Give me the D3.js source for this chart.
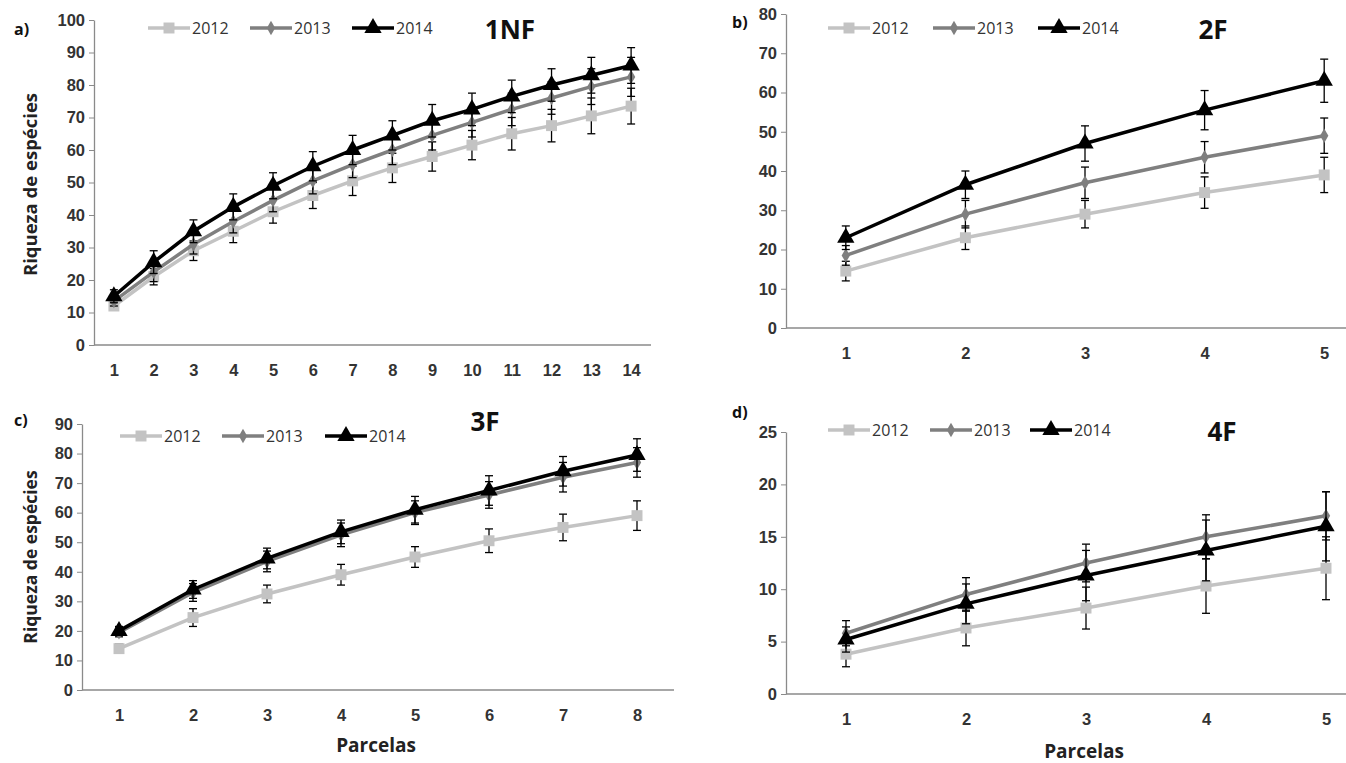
<!DOCTYPE html>
<html lang="pt">
<head>
<meta charset="UTF-8">
<title>Riqueza de espécies</title>
<script src="https://cdn.jsdelivr.net/npm/d3@7"></script>
<style>
    body { margin: 0; background: #fff; }
    svg { display: block; font-family: 'Open Sans', sans-serif; }
    .tick-label { font-size: 16.5px; font-weight: 600; fill: #333; }
    .legend-text { font-size: 16px; fill: #333; }
    .title { font-size: 26px; font-weight: 700; fill: #111; }
    .axis-title { font-size: 19px; font-weight: 700; fill: #222; }
    .panel-letter { font-size: 16px; font-weight: 700; fill: #111; }
</style>
</head>
<body>
<svg id="chart" width="1346" height="763"></svg>
<script>
// --- data -------------------------------------------------------------
var years = ["2012", "2013", "2014"];

var parcelasA = d3.range(1, 15);
var mean1NF_2012 = [12, 21, 29, 35, 41, 46, 50.5, 54.5, 58, 61.5, 65, 67.5, 70.5, 73.5];
var err1NF_2012  = [1, 2.5, 3, 3.5, 3.5, 4, 4.5, 4.5, 4.5, 4.5, 5, 5, 5.5, 5.5];
var mean1NF_2013 = [13.5, 22.5, 31, 38, 44.5, 50.5, 55.5, 60, 64.5, 68.5, 72.5, 76, 79.5, 82.5];
var err1NF_2013  = [1.5, 3, 3, 3.5, 3.5, 4, 4, 4.5, 4.5, 4.5, 5, 5, 5.5, 6];
var mean1NF_2014 = [15, 25.5, 35, 42.5, 49, 55, 60, 64.5, 69, 72.5, 76.5, 80, 83, 86];
var err1NF_2014  = [2, 3.5, 3.5, 4, 4, 4.5, 4.5, 4.5, 5, 5, 5, 5, 5.5, 5.5];

var parcelasB = d3.range(1, 6);
var mean2F_2012 = [14.5, 23, 29, 34.5, 39];
var err2F_2012  = [2.5, 3, 3.5, 4, 4.5];
var mean2F_2013 = [18.5, 29, 37, 43.5, 49];
var err2F_2013  = [2.5, 3.5, 4, 4, 4.5];
var mean2F_2014 = [23, 36.5, 47, 55.5, 63];
var err2F_2014  = [3, 3.5, 4.5, 5, 5.5];

var parcelasC = d3.range(1, 9);
var mean3F_2012 = [14, 24.5, 32.5, 39, 45, 50.5, 55, 59];
var err3F_2012  = [1.5, 3, 3, 3.5, 3.5, 4, 4.5, 5];
var mean3F_2013 = [19.5, 33, 43.5, 52.5, 60, 66, 72, 77];
var err3F_2013  = [1.5, 3, 3.5, 4, 4, 4.5, 5, 5];
var mean3F_2014 = [20, 34, 44.5, 53.5, 61, 67.5, 74, 79.5];
var err3F_2014  = [1.5, 3, 3.5, 4, 4.5, 5, 5, 5.5];

var parcelasD = d3.range(1, 6);
var mean4F_2012 = [3.8, 6.3, 8.2, 10.3, 12];
var err4F_2012  = [1.2, 1.7, 2, 2.6, 3];
var mean4F_2013 = [5.8, 9.5, 12.5, 15, 17];
var err4F_2013  = [1.2, 1.6, 1.8, 2.1, 2.3];
var mean4F_2014 = [5.2, 8.6, 11.3, 13.7, 16];
var err4F_2014  = [1.2, 1.9, 2.4, 2.9, 3.3];

var ticksA = d3.range(0, 101, 10);
var ticksB = d3.range(0, 81, 10);
var ticksC = d3.range(0, 91, 10);
var ticksD = d3.range(0, 26, 5);

// --- styles -----------------------------------------------------------
var colors = {"2012": "#c3c3c3", "2013": "#7f7f7f", "2014": "#000000"};
var symbols = {"2012": d3.symbolSquare, "2013": d3.symbolDiamond, "2014": d3.symbolTriangle};
var symSize = {"2012": 120, "2013": 60, "2014": 130};

var svg = d3.select("#chart");

function drawPanel(p) {
    var g = svg.append("g");

    var x = d3.scalePoint()
        .domain(p.cats)
        .range([p.left, p.right])
        .padding(0.5);

    var y = d3.scaleLinear()
        .domain([0, p.ymax])
        .range([p.bottom, p.top]);

    // y axis
    var yAxis = d3.axisLeft(y).tickValues(p.ticks).tickSize(5).tickSizeOuter(0);
    var ya = g.append("g")
        .attr("transform", "translate(" + p.left + ",0)")
        .call(yAxis);
    ya.select(".domain").attr("stroke", "#8a8a8a").attr("stroke-width", 1.3);
    ya.selectAll(".tick line").attr("stroke", "#8a8a8a");
    ya.selectAll(".tick text").attr("class", "tick-label").attr("x", -9);

    // x axis (no ticks)
    var xAxis = d3.axisBottom(x).tickSize(0).tickSizeOuter(0).tickPadding(19);
    var xa = g.append("g")
        .attr("transform", "translate(0," + p.bottom + ")")
        .call(xAxis);
    xa.select(".domain").attr("stroke", "#8a8a8a").attr("stroke-width", 1.3)
        .attr("d", "M" + p.left + ",0H" + p.right);
    xa.selectAll(".tick text").attr("class", "tick-label");

    var line = d3.line()
        .x(function (d) { return x(d.c); })
        .y(function (d) { return y(d.v); });

    years.forEach(function (yr, k) {
        var pts = p.cats.map(function (c, i) {
            return {c: c, v: p.means[k][i], e: p.errs[k][i]};
        });

        // error bars
        var eb = g.append("g").attr("stroke", "#000").attr("stroke-width", 1.3);
        eb.selectAll("line.v").data(pts).enter().append("line")
            .attr("x1", function (d) { return x(d.c); })
            .attr("x2", function (d) { return x(d.c); })
            .attr("y1", function (d) { return y(d.v - d.e); })
            .attr("y2", function (d) { return y(d.v + d.e); });
        [-1, 1].forEach(function (s) {
            eb.selectAll("line.cap" + s).data(pts).enter().append("line")
                .attr("x1", function (d) { return x(d.c) - 4; })
                .attr("x2", function (d) { return x(d.c) + 4; })
                .attr("y1", function (d) { return y(d.v + s * d.e); })
                .attr("y2", function (d) { return y(d.v + s * d.e); });
        });

        g.append("path")
            .datum(pts)
            .attr("fill", "none")
            .attr("stroke", colors[yr])
            .attr("stroke-width", 3.5)
            .attr("d", line);

        g.selectAll(null).data(pts).enter().append("path")
            .attr("d", d3.symbol().type(symbols[yr]).size(symSize[yr]))
            .attr("fill", colors[yr])
            .attr("transform", function (d) {
                return "translate(" + x(d.c) + "," + y(d.v) + ")";
            });
    });

    // legend
    years.forEach(function (yr, k) {
        var lx = p.legX[k], ly = p.legY;
        var lg = g.append("g").attr("transform", "translate(" + lx + "," + ly + ")");
        lg.append("line").attr("x1", 0).attr("x2", 42).attr("y1", 0).attr("y2", 0)
            .attr("stroke", colors[yr]).attr("stroke-width", 3.5);
        lg.append("path")
            .attr("d", d3.symbol().type(symbols[yr]).size(symSize[yr]))
            .attr("fill", colors[yr])
            .attr("transform", "translate(21,0)");
        lg.append("text").attr("class", "legend-text")
            .attr("x", 44).attr("y", 6).text(yr);
    });

    g.append("text").attr("class", "title")
        .attr("x", p.titleX).attr("y", p.titleY)
        .attr("text-anchor", "middle").text(p.title);

    g.append("text").attr("class", "panel-letter")
        .attr("x", p.letterX).attr("y", p.letterY).text(p.letter);

    if (p.ylabel) {
        g.append("text").attr("class", "axis-title")
            .attr("transform", "translate(37," + ((p.top + p.bottom) / 2 + p.ylabelDy) + ") rotate(-90)")
            .attr("text-anchor", "middle")
            .style("font-size", p.ylabelSize + "px")
            .text("Riqueza de espécies");
    }
    if (p.xlabelY) {
        g.append("text").attr("class", "axis-title")
            .attr("x", (p.left + Math.min(p.right, 1346)) / 2 + p.xlabelDx).attr("y", p.xlabelY)
            .attr("text-anchor", "middle").text("Parcelas");
    }
}

drawPanel({
    cats: parcelasA, means: [mean1NF_2012, mean1NF_2013, mean1NF_2014],
    errs: [err1NF_2012, err1NF_2013, err1NF_2014],
    ymax: 100, ticks: ticksA, left: 94, right: 651, top: 20, bottom: 345,
    legX: [148, 250, 352], legY: 28, title: "1NF", titleX: 510, titleY: 39,
    letter: "a)", letterX: 14, letterY: 35, ylabel: true, ylabelSize: 18.5, ylabelDy: 2
});

drawPanel({
    cats: parcelasB, means: [mean2F_2012, mean2F_2013, mean2F_2014],
    errs: [err2F_2012, err2F_2013, err2F_2014],
    ymax: 80, ticks: ticksB, left: 786, right: 1384, top: 14, bottom: 328,
    legX: [828, 933, 1038], legY: 28, title: "2F", titleX: 1213, titleY: 39,
    letter: "b)", letterX: 732, letterY: 28
});

drawPanel({
    cats: parcelasC, means: [mean3F_2012, mean3F_2013, mean3F_2014],
    errs: [err3F_2012, err3F_2013, err3F_2014],
    ymax: 90, ticks: ticksC, left: 82, right: 674, top: 424, bottom: 690,
    legX: [120, 222, 325], legY: 436, title: "3F", titleX: 485, titleY: 431,
    letter: "c)", letterX: 14, letterY: 426, ylabel: true, ylabelSize: 17.5, ylabelDy: 0,
    xlabelY: 752, xlabelDx: -2
});

drawPanel({
    cats: parcelasD, means: [mean4F_2012, mean4F_2013, mean4F_2014],
    errs: [err4F_2012, err4F_2013, err4F_2014],
    ymax: 25, ticks: ticksD, left: 786, right: 1386, top: 432, bottom: 694,
    legX: [828, 930, 1030], legY: 430, title: "4F", titleX: 1222, titleY: 441,
    letter: "d)", letterX: 732, letterY: 418,
    xlabelY: 758, xlabelDx: 18
});
</script>
</body>
</html>
